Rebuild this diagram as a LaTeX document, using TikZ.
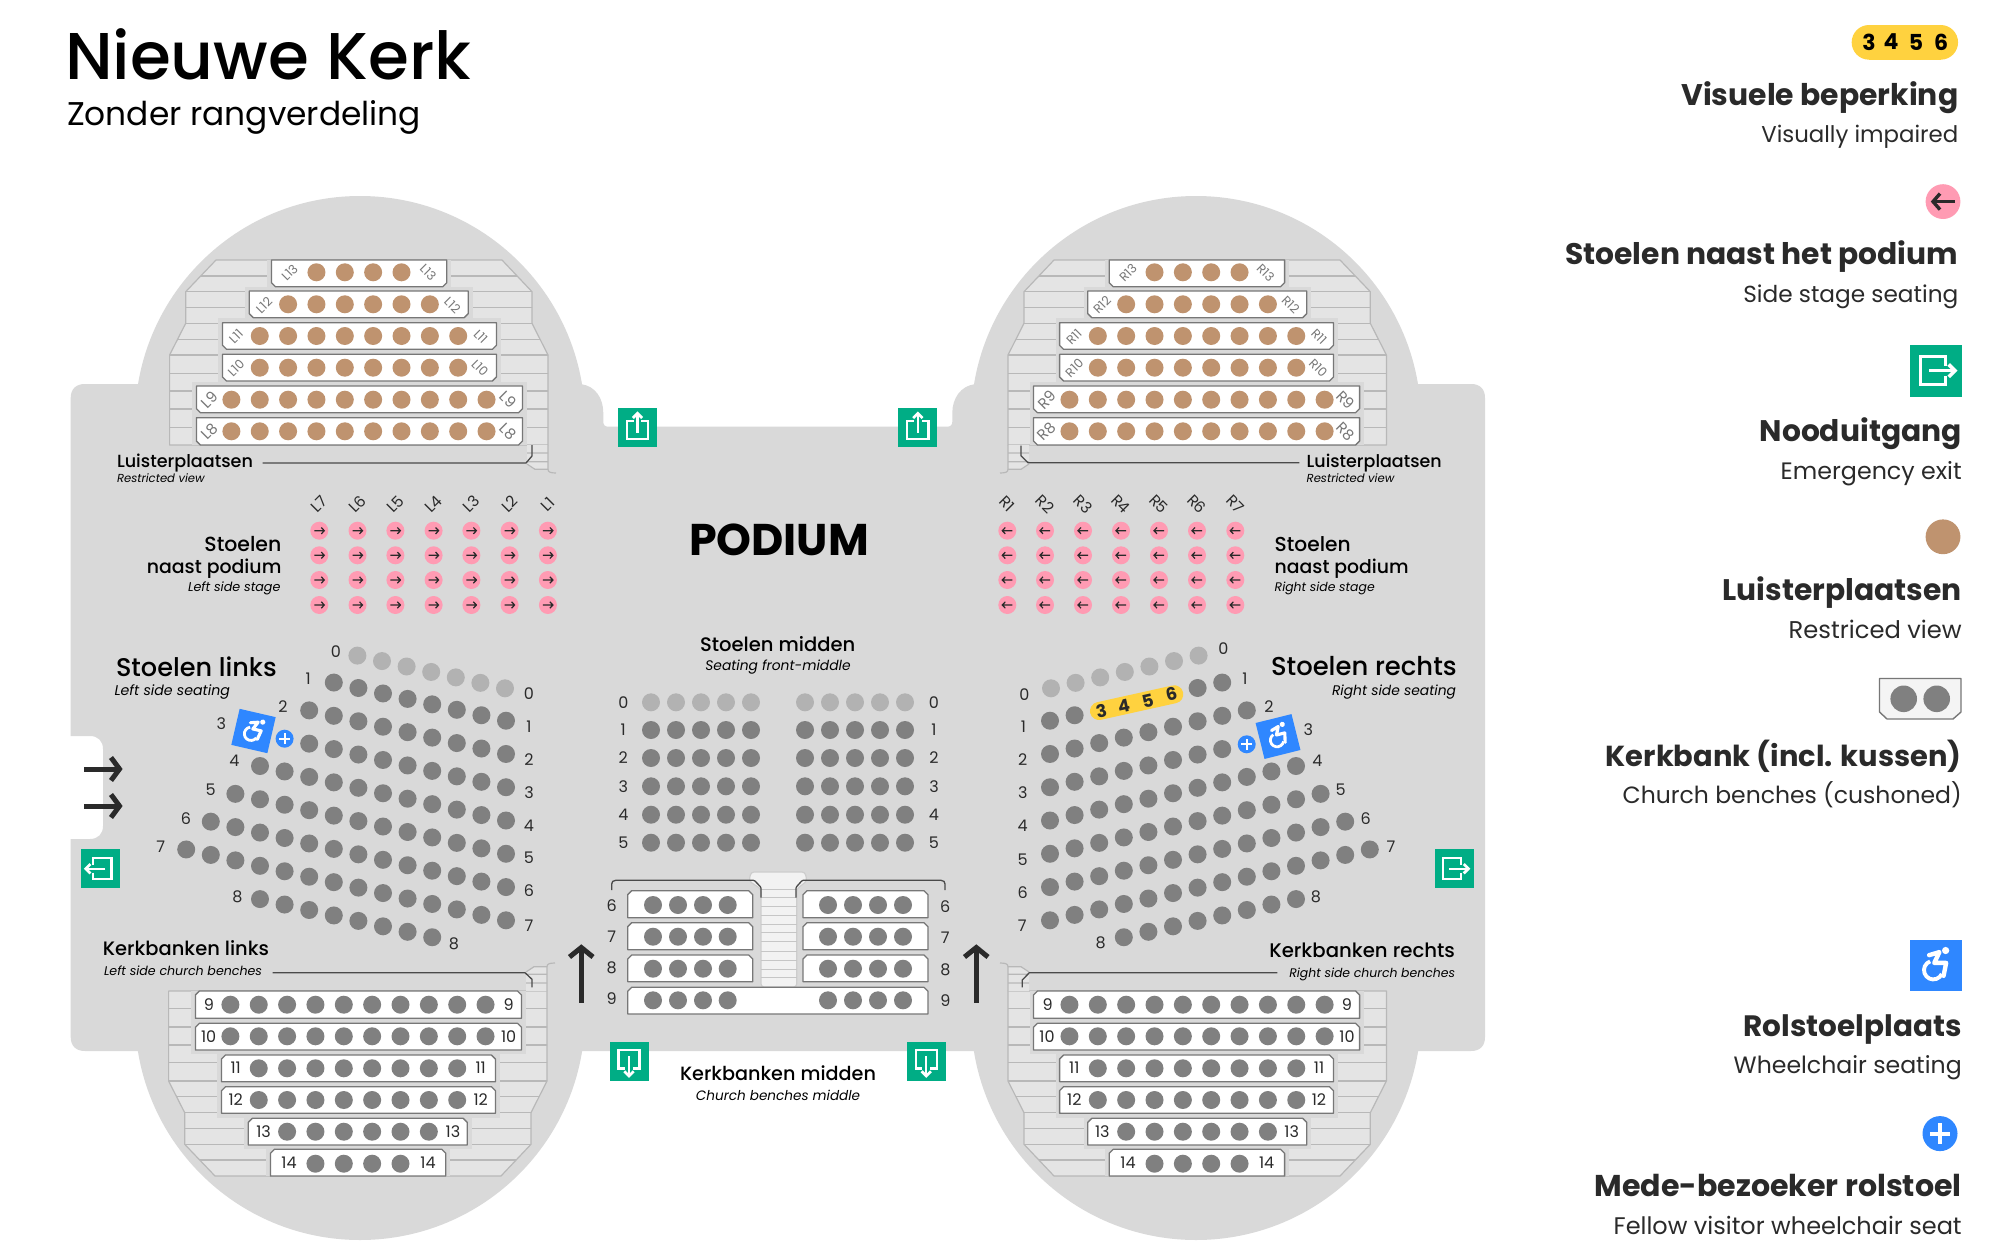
\documentclass[tikz,border=0pt]{standalone}
\usepackage{fontspec}
\usepackage{graphicx}
\setmainfont{Poppins}
\newfontfamily\fmed{Poppins Medium}
\newfontfamily\fital{Poppins Italic}
\newfontfamily\fbold{Poppins Bold}
\definecolor{floor}{HTML}{D9D9D9}
\definecolor{seat}{HTML}{808080}
\definecolor{lightseat}{HTML}{B2B2B2}
\definecolor{brownseat}{HTML}{BF936F}
\definecolor{stairfill}{HTML}{E4E4E4}
\definecolor{stairline}{HTML}{B8B8B8}
\definecolor{benchline}{HTML}{777777}
\definecolor{pinkseat}{HTML}{FF9BB3}
\definecolor{exitgreen}{HTML}{00AD85}
\definecolor{wheelblue}{HTML}{2F87FF}
\definecolor{pillyellow}{HTML}{FFD23F}
\definecolor{ink}{HTML}{2A2A2A}
\newcounter{tn}
\tikzset{
  txt/.style={inner sep=0pt,outer sep=0pt,text=black},
  num/.style={inner sep=0pt,outer sep=0pt,text=ink,font=\fontsize{16}{16}\selectfont},
  tag/.style={inner sep=0pt,outer sep=0pt,text=benchline,font=\fontsize{#1}{#1}\selectfont},
  stairs/.style={fill=stairfill,draw=stairline,line width=1.2pt,line join=round},
  stairstep/.style={draw=stairline,line width=1.2pt},
  benchbox/.style={fill=white,draw=benchline,line width=1.3pt,line join=round},
  leader/.style={draw=ink!85,line width=1.3pt},
  bigarrow/.style={draw=ink,line width=5pt,line join=miter},
}
% anchor, x, y, width, font, text
\newcommand\TT[6]{\stepcounter{tn}\node[txt,anchor=#1] (t\arabic{tn}) at (#2,#3) {\resizebox{#4pt}{!}{\fontsize{20}{20}\selectfont #5#6}};}
\newcommand\LG[6]{\stepcounter{tn}\node[txt,text=ink,anchor=#1] (t\arabic{tn}) at (#2,#3) {\resizebox{#4pt}{!}{\fontsize{20}{20}\selectfont #5#6}};}
\newcommand\NN[3]{\stepcounter{tn}\node[num] (t\arabic{tn}) at (#1,#2) {#3};}
\newcommand\RT[5]{\stepcounter{tn}\node[tag=#4,rotate=#5] (t\arabic{tn}) at (#1,#2) {#3};}
% upper bench bottom chamfer
\newcommand\bench[4]{\draw[benchbox] (#1,#3) -- (#2,#3) -- (#2,#4-4) -- (#2-4,#4) -- (#1+4,#4) -- (#1,#4-4) -- cycle;}
\newcommand\benchset[1]{%
  \draw[stairs] (216,260) -- (502,260) -- (532,291.7) -- (532,323.3) -- (548,355) -- (548,445) -- (169.6,445) -- (169.6,355) -- (185.7,323.3) -- (185.7,291.7) -- cycle;
  \begin{scope}
    \clip (216,260) -- (502,260) -- (532,291.7) -- (532,323.3) -- (548,355) -- (548,445) -- (169.6,445) -- (169.6,355) -- (185.7,323.3) -- (185.7,291.7) -- cycle;
    \foreach \yy in {276,291.7,307.7,323.3,339.3,355,373.3,391,409,427.3} {\draw[stairstep] (160,\yy) -- (560,\yy);}
  \end{scope}
  \fill[stairfill] (527,445) -- (548,445) -- (548,469.3) -- (535,469.3) -- (527,464) -- cycle;
  \draw[stairstep] (527,453) -- (548,453) (527,461.7) -- (548,461.7) (527,464) -- (535,469.3) -- (548,469.3);
  \draw[stairstep] (548,445) -- (548,469) .. controls (548,472) and (550,473) .. (556,473);
  \fill[floor] (192,382) rectangle (526.5,445);
  \fill[floor] (218,318) rectangle (500.5,386);
  \fill[floor] (245,287) rectangle (472.5,322);
  \fill[floor] (267,260) rectangle (451,291);
  \bench{271.4}{446.8}{260}{286.7}
  \bench{249.3}{468.2}{291}{317.7}
  \bench{222.5}{496.4}{322.7}{349.3}
  \bench{222.5}{496.4}{354.3}{381}
  \bench{196.4}{522.5}{386}{412.7}
  \bench{196.4}{522.5}{417.7}{445}
  \foreach \yy/\aa/\bb in {272.3/3/6,304.3/2/7,336/1/8,367.7/1/8,399.7/0/9,431.3/0/9} {
    \foreach \i in {\aa,...,\bb} {\fill[#1] ({231.4+28.35*\i},\yy) circle[radius=9pt];}
  }
}
\newcommand\rowseats[3]{\foreach \c in {#2,...,#3} {\fill[seat] ({1050+24.6*\c},{720.7+33.27*(#1-1)-5.45*\c}) circle[radius=9pt];}}
\newcommand\rowzero{\foreach \c in {0,...,6} {\fill[lightseat] ({1051+24.6*\c},{688.3-5.45*\c}) circle[radius=9pt];}}
\newcommand\exiticon[4]{%
  \begin{scope}[shift={(#1,#2)},rotate=#4,scale=#3]
    \fill[exitgreen] (-0.5,-0.5) rectangle (0.5,0.5);
    \draw[white,line width=#3*0.06pt,line cap=butt,line join=miter] (0.18,-0.1) -- (0.18,-0.27) -- (-0.29,-0.27) -- (-0.29,0.27) -- (0.18,0.27) -- (0.18,0.1);
    \draw[white,line width=#3*0.06pt] (-0.13,0) -- (0.36,0);
    \draw[white,line width=#3*0.07pt,line join=miter] (0.25,-0.12) -- (0.37,0) -- (0.25,0.12);
  \end{scope}}
\newcommand\wheelicon[4]{%
  \begin{scope}[shift={(#1,#2)},rotate=#4,scale=#3]
    \fill[wheelblue] (-0.5,-0.5) rectangle (0.5,0.5);
    \fill[white] (0.19,-0.29) circle[radius=0.07pt];
    \draw[white,line width=#3*0.085pt,line join=round,line cap=round] (-0.13,-0.2) -- (0.07,-0.26) -- (-0.03,-0.05) -- (0.2,-0.05) -- (0.15,0.2);
    \draw[white,line width=#3*0.075pt] (-0.11,-0.08) arc[start angle=110,end angle=335,radius=0.18pt];
  \end{scope}}
\newcommand\plusicon[3]{%
  \fill[wheelblue] (#1,#2) circle[radius=#3 pt];
  \draw[white,line width=#3*0.22pt] ({#1-0.58*#3},#2) -- ({#1+0.58*#3},#2) (#1,{#2-0.58*#3}) -- (#1,{#2+0.58*#3});}
\begin{document}
\begin{tikzpicture}[x=1pt,y=-1pt]
\useasboundingbox (0,0) rectangle (2000,1247);
\fill[white] (0,0) rectangle (2000,1247);
% floor
\fill[floor] (360,421) circle[radius=225pt];
\fill[floor] (1196,421) circle[radius=225pt];
\fill[floor] (360,1015) circle[radius=225pt];
\fill[floor] (1196,1015) circle[radius=225pt];
\fill[floor] (85,384) -- (581.7,384.3) .. controls (595,386) and (603.3,398) .. (603.3,413) -- (603.3,421.7) .. controls (603.3,425) and (605,426.7) .. (608.3,426.7) -- (947.3,426.7) .. controls (950.5,426.7) and (952.3,425) .. (952.3,421.7) -- (952.3,413) .. controls (952.3,398) and (961,386) .. (974.3,384.3) -- (1471,384) .. controls (1480,384) and (1485,389) .. (1485,398) -- (1485,1037) .. controls (1485,1046) and (1480,1051) .. (1471,1051) -- (85,1051) .. controls (76,1051) and (70.7,1046) .. (70.7,1037) -- (70.7,839) -- (90,839) .. controls (98,839) and (103,834) .. (103,826) -- (103,749) .. controls (103,741) and (98,736) .. (90,736) -- (70.7,736) -- (70.7,398) .. controls (70.7,389) and (76,384) .. (85,384) -- cycle;
% halls, left
\begin{scope}
  \benchset{brownseat}
\end{scope}
\begin{scope}[shift={(-1,1436)},yscale=-1]
  \benchset{seat}
\end{scope}
% halls, right
\begin{scope}[shift={(1556,0)},xscale=-1]
  \benchset{brownseat}
\end{scope}
\begin{scope}[shift={(1556,1436)},xscale=-1,yscale=-1]
  \benchset{seat}
\end{scope}
% leaders
\coordinate (la1) at (262.5,463); \coordinate (la2) at (526,463); \coordinate (la3) at (532,456); \coordinate (la4) at (532,445);
\draw[leader] (la1) -- (la2) -- (la3) -- (la4);
\coordinate (lb1) at (1299.3,462.7); \coordinate (lb2) at (1028,462.7); \coordinate (lb3) at (1021,455.7); \coordinate (lb4) at (1021,445.7);
\draw[leader] (lb1) -- (lb2) -- (lb3) -- (lb4);
\coordinate (lc1) at (272.5,972.7); \coordinate (lc2) at (525,972.7); \coordinate (lc3) at (532,979.3); \coordinate (lc4) at (532,987.3);
\draw[leader] (lc1) -- (lc2) -- (lc3) -- (lc4);
\coordinate (ld1) at (1277.3,972.7); \coordinate (ld2) at (1029.3,972.7); \coordinate (ld3) at (1022.3,980); \coordinate (ld4) at (1022.3,987.3);
\draw[leader] (ld1) -- (ld2) -- (ld3) -- (ld4);
% seat blocks right
\rowzero
\rowseats{1}{0}{1}\rowseats{1}{6}{7}
\rowseats{2}{0}{8}\rowseats{3}{0}{7}\rowseats{4}{0}{10}\rowseats{5}{0}{11}\rowseats{6}{0}{12}\rowseats{7}{0}{13}\rowseats{8}{3}{10}
\draw[pillyellow,line width=18pt,line cap=round] (1099,711) -- (1174.3,694.3);
\foreach \x/\y/\t in {1101.3/711/3,1123.7/706/4,1147.7/700.7/5,1171.3/694.3/6} {\node[inner sep=0pt,text=ink,rotate=12.5,font=\fontsize{17.5}{18}\selectfont\fbold] (y\t) at (\x,\y) {\t};}
\wheelicon{1278}{736.5}{37}{14}
\plusicon{1246.7}{744.3}{9}
% seat blocks left
\begin{scope}[shift={(1556,0)},xscale=-1]
\rowzero
\rowseats{1}{0}{7}\rowseats{2}{0}{8}\rowseats{3}{0}{8}\rowseats{4}{0}{10}\rowseats{5}{0}{11}\rowseats{6}{0}{12}\rowseats{7}{0}{13}\rowseats{8}{3}{10}
\end{scope}
\wheelicon{253.5}{731}{37}{-13}
\plusicon{284.6}{738.7}{9}
% side stage seats
\foreach \y in {530.7,555.3,580,605} {
  \foreach \x in {319.3,357.5,395.4,433.6,471.4,509.6,547.9} {
    \fill[pinkseat] (\x,\y) circle[radius=9pt];
    \draw[ink,line width=1.2pt] (\x-5,\y) -- (\x+5,\y) (\x+2,\y-3.2) -- (\x+5,\y) -- (\x+2,\y+3.2);
  }
  \foreach \x in {1007.3,1045,1083,1121,1159,1197,1235.3} {
    \fill[pinkseat] (\x,\y) circle[radius=9pt];
    \draw[ink,line width=1.2pt] (\x-5,\y) -- (\x+5,\y) (\x-2,\y-3.2) -- (\x-5,\y) -- (\x-2,\y+3.2);
  }
}
\foreach \x/\t in {319.3/L7,357.5/L6,395.4/L5,433.6/L4,471.4/L3,509.6/L2,547.9/L1} {\node[num,rotate=45,font=\fontsize{15.5}{15.5}\selectfont] (n\t) at (\x,504) {\t};}
\foreach \x/\t in {1007.3/R1,1045/R2,1083/R3,1121/R4,1159/R5,1197/R6,1235.3/R7} {\node[num,rotate=-45,font=\fontsize{15.5}{15.5}\selectfont] (n\t) at (\x,504) {\t};}
% middle seats
\foreach \x in {651,676,701,726,751,805,830,855,880,905} {
  \fill[lightseat] (\x,702.3) circle[radius=9pt];
  \foreach \y in {730,758,786.3,814.7,842.7} {\fill[seat] (\x,\y) circle[radius=9pt];}
}
% middle stairs
\draw[fill=stairfill!50!white,draw=stairline!70!white,line width=1.2pt,rounded corners=3pt] (749,881) -- (751,872) -- (805,872) -- (807,881) -- (796.7,889) -- (796.7,987) -- (761,987) -- (761,889) -- cycle;
\foreach \y in {889.3,897.7,906.7,915,924,932.7,941.7,951,960,969,977.7} {\draw[stairline!80!white,line width=1pt] (761,\y) -- (796.7,\y);}
\coordinate (lm1) at (611.7,890); \coordinate (lm2) at (616.7,880.3); \coordinate (lm3) at (754.3,880.3); \coordinate (lm4) at (761,887.3); \coordinate (lm5) at (761,897.7);
\draw[leader,rounded corners=1pt] (lm1) -- (611.7,885) .. controls (611.7,882) and (613,880.3) .. (lm2) -- (lm3) -- (lm4) -- (lm5);
\coordinate (ln1) at (945,890); \coordinate (ln2) at (940,880.3); \coordinate (ln3) at (802.3,880.3); \coordinate (ln4) at (796,887.3); \coordinate (ln5) at (796,897.7);
\draw[leader,rounded corners=1pt] (ln1) -- (945,885) .. controls (945,882) and (943.7,880.3) .. (ln2) -- (ln3) -- (ln4) -- (ln5);
\newcommand\topbench[4]{\draw[benchbox] (#1,#4) -- (#2,#4) -- (#2,#3+4) -- (#2-4,#3) -- (#1+4,#3) -- (#1,#3+4) -- cycle;}
\topbench{627.7}{752.7}{890.7}{917.7}
\topbench{627.7}{752.7}{922.7}{949.7}
\topbench{627.7}{752.7}{955}{981.7}
\topbench{803}{928}{890.7}{917.7}
\topbench{803}{928}{922.7}{949.7}
\topbench{803}{928}{955}{981.7}
\topbench{627.7}{928}{987.3}{1014}
\foreach \x in {653,678,703,727.7,828,853,878,903} {\foreach \y in {905,936.7,968.7,1000.3} {\fill[seat] (\x,\y) circle[radius=9pt];}}
% big arrows
\draw[bigarrow] (84,769) -- (119,769); \draw[bigarrow] (111,757.5) -- (119.5,769) -- (111,780.5);
\draw[bigarrow] (84,806) -- (119,806); \draw[bigarrow] (111,794.5) -- (119.5,806) -- (111,817.5);
\draw[bigarrow] (581.3,1002.7) -- (581.3,948); \draw[bigarrow] (569.5,957) -- (581.3,947.5) -- (593,957);
\draw[bigarrow] (976.3,1002.7) -- (976.3,948); \draw[bigarrow] (964.5,957) -- (976.3,947.5) -- (988,957);
% exits
\exiticon{100.2}{868.7}{39}{180}
\exiticon{1454}{868.7}{39}{0}
\exiticon{637.5}{427.8}{39}{90}
\exiticon{917.8}{427.8}{39}{90}
\exiticon{629}{1061.5}{39}{-90}
\exiticon{926.3}{1061.5}{39}{-90}
% bench numbers lower
\foreach \a/\b/\y/\t in {209/508.6/1004.3/9,208.6/508.6/1036.3/10,235.7/480.7/1068/11,235.7/480.7/1099.7/12,263.6/453/1131.3/13,289/428/1163/14} {\NN{\a}{\y}{\t}\NN{\b}{\y}{\t}}
\foreach \a/\b/\y/\t in {1047.7/1347/1004.3/9,1047/1347/1036.3/10,1074.3/1319/1068/11,1074.3/1319/1099.7/12,1102.3/1291.7/1131.3/13,1128/1266.7/1163/14} {\NN{\a}{\y}{\t}\NN{\b}{\y}{\t}}
% bench tags upper
\foreach \a/\b/\y/\t/\s in {289.6/428.2/272.6/L13/12.5,264/452.5/305/L12/12.5,236/480.7/336.7/L11/12.5,236/480/368/L10/12.5,209.3/508.2/399.7/L9/15,209.3/508.2/431.3/L8/15,1128/1265.7/273/R13/12.5,1102/1290.7/305/R12/12.5,1074/1319/336.7/R11/12.5,1074.3/1318.3/368/R10/12.5,1046.7/1345.7/399.7/R9/15,1046.7/1345.7/431.5/R8/15} {\RT{\a}{\y}{\t}{\s}{45}\RT{\b}{\y}{\t}{\s}{-45}}
% seat row numbers
\foreach \x/\y/\t in {1024.3/694.3/0,1023.3/726.7/1,1022.7/760/2,1022.7/792.7/3,1022.7/826/4,1022.7/859.3/5,1022.7/892.7/6,1022.3/926/7,1223.3/649/0,1245/678.3/1,1269/706.3/2,1308.3/729.3/3,1317.3/760.7/4,1340.7/789.3/5,1365.7/818.3/6,1391/846.7/7,1316/896.7/8,1100.7/942.7/8,336/652/0,308.2/679/1,282.9/706.7/2,221.4/723.3/3,234.3/760.7/4,210.7/789.3/5,186/818.3/6,160.7/846.7/7,237.5/896.3/8,529/693.3/0,529/726.7/1,529/759.3/2,529/792.7/3,529/826/4,529/858/5,529/891/6,529/926/7,454/944/8} {\NN{\x}{\y}{\t}}
\foreach \y/\t in {702.3/0,730/1,758/2,786.3/3,814.7/4,842.7/5} {\NN{623.3}{\y}{\t}\NN{934}{\y}{\t}}
\foreach \a/\b/\t in {906/906.7/6,937/937.7/7,967.7/970/8,998.3/1000.7/9} {\NN{611.7}{\a}{\t}\NN{945.3}{\b}{\t}}
% plan texts
\TT{base west}{65}{80}{406}{\fmed}{Nieuwe Kerk}
\TT{base west}{67}{125}{354}{\rmfamily}{Zonder rangverdeling}
\TT{base west}{689}{555}{180}{\fbold}{PODIUM}
\TT{base west}{117}{467}{136}{\fmed}{Luisterplaatsen}
\TT{base west}{117}{482}{87.6}{\fital}{Restricted view}
\TT{base west}{1306.7}{467.5}{135}{\fmed}{Luisterplaatsen}
\TT{base west}{1306.7}{482}{87.6}{\fital}{Restricted view}
\TT{base east}{281.4}{551}{77}{\fmed}{Stoelen}
\TT{base east}{281.4}{573}{134.6}{\fmed}{naast podium}
\TT{base east}{280.5}{591}{92.5}{\fital}{Left side stage}
\TT{base west}{1274.7}{551}{76}{\fmed}{Stoelen}
\TT{base west}{1274.7}{573}{134}{\fmed}{naast podium}
\TT{base west}{1274.7}{591}{100}{\fital}{Right side stage}
\TT{base west}{116}{676}{160.8}{\fmed}{Stoelen links}
\TT{base west}{114.6}{695}{115.4}{\fital}{Left side seating}
\TT{base east}{1456.7}{675}{185.7}{\fmed}{Stoelen rechts}
\TT{base east}{1456}{695}{124}{\fital}{Right side seating}
\TT{base}{777.7}{651.7}{155.3}{\fmed}{Stoelen midden}
\TT{base}{778}{670.7}{145.3}{\fital}{Seating front-middle}
\TT{base west}{102.9}{955.7}{166.1}{\fmed}{Kerkbanken links}
\TT{base west}{104}{975.7}{158}{\fital}{Left side church benches}
\TT{base east}{1455}{957.3}{185.7}{\fmed}{Kerkbanken rechts}
\TT{base east}{1455}{977}{165.7}{\fital}{Right side church benches}
\TT{base}{778}{1080}{196}{\fmed}{Kerkbanken midden}
\TT{base}{778}{1100}{164.3}{\fital}{Church benches middle}
% legend
\fill[pillyellow] (1869,25) rectangle (1940.7,59.7);
\fill[pillyellow] (1869,42.35) circle[radius=17.35pt] (1940.7,42.35) circle[radius=17.35pt];
\foreach \x/\t in {1869/3,1891/4,1916/5,1941/6} {\node[inner sep=0pt,text=black,font=\fontsize{22}{22}\selectfont\fbold] (g\t) at (\x,42) {\t};}
\LG{base east}{1958.3}{106}{277}{\fbold}{Visuele beperking}
\LG{base east}{1958.3}{142}{197}{\rmfamily}{Visually impaired}
\fill[pinkseat] (1943,201.6) circle[radius=17.4pt];
\draw[ink,line width=3.4pt] (1934,201.6) -- (1955,201.6);
\draw[ink,line width=3.4pt,line join=miter] (1940,193.6) -- (1933,201.6) -- (1940,209.6);
\LG{base east}{1958.3}{264}{393}{\fbold}{Stoelen naast het podium}
\LG{base east}{1958.3}{302}{215}{\rmfamily}{Side stage seating}
\exiticon{1935.8}{370.7}{51.7}{0}
\LG{base east}{1961.7}{441}{202}{\fbold}{Nooduitgang}
\LG{base east}{1961.7}{479}{181}{\rmfamily}{Emergency exit}
\fill[brownseat] (1943,536.8) circle[radius=17.4pt];
\LG{base east}{1961.7}{600}{239}{\fbold}{Luisterplaatsen}
\LG{base east}{1961.7}{638}{173}{\rmfamily}{Restriced view}
\draw[fill=stairfill!40!white,draw=benchline,line width=1.4pt,line join=round] (1879.5,678.5) -- (1961,678.5) -- (1961,712) -- (1953,719) -- (1887,719) -- (1879.5,712) -- cycle;
\fill[seat] (1903.7,698.8) circle[radius=13.3pt] (1936.7,698.8) circle[radius=13.3pt];
\LG{base east}{1961.7}{766}{356}{\fbold}{Kerkbank (incl. kussen)}
\LG{base east}{1961.7}{803}{339}{\rmfamily}{Church benches (cushoned)}
\wheelicon{1935.8}{965.5}{51.7}{0}
\LG{base east}{1961.7}{1036}{218}{\fbold}{Rolstoelplaats}
\LG{base east}{1961.7}{1073}{228}{\rmfamily}{Wheelchair seating}
\plusicon{1940}{1133.6}{17.5}
\LG{base east}{1961.7}{1196}{367}{\fbold}{Mede-bezoeker rolstoel}
\LG{base east}{1961.7}{1234}{348}{\rmfamily}{Fellow visitor wheelchair seat}
\end{tikzpicture}
\end{document}
